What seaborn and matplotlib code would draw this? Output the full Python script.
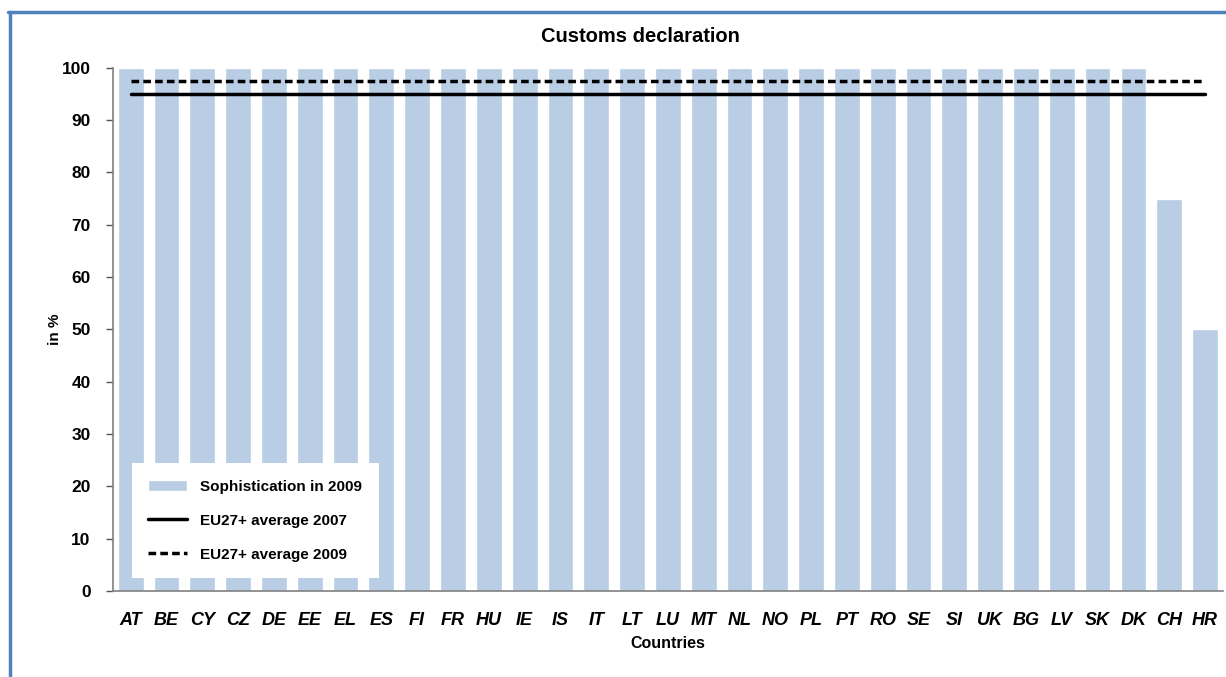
import matplotlib
matplotlib.use("Agg")
import matplotlib.pyplot as plt
import seaborn as sns
import pandas as pd
from matplotlib.lines import Line2D

# data
countries = ["AT", "BE", "CY", "CZ", "DE", "EE", "EL", "ES", "FI", "FR", "HU", "IE",
             "IS", "IT", "LT", "LU", "MT", "NL", "NO", "PL", "PT", "RO", "SE", "SI",
             "UK", "BG", "LV", "SK", "DK", "CH", "HR"]
sophistication_2009 = [100] * 29 + [75, 50]
eu_avg_2007 = 95
eu_avg_2009 = 97.5

df = pd.DataFrame({"country": countries, "value": sophistication_2009})

sns.set_style("white")
plt.rcParams["font.family"] = ["Liberation Sans", "DejaVu Sans"]
plt.rcParams.update({"text.color": "black", "axes.labelcolor": "black",
                     "xtick.color": "black", "ytick.color": "black"})

fig = plt.figure(figsize=(12.26, 6.77), dpi=100)
ax = fig.add_axes([0.092, 0.127, 0.9055, 0.773])

sns.barplot(data=df, x="country", y="value", color="#B9CDE5", saturation=1,
            width=0.72, ax=ax, label="Sophistication in 2009")
xs = range(len(countries))
ax.plot([0, len(countries) - 1], [eu_avg_2007] * 2, color="black", lw=2.5,
        label="EU27+ average 2007")
ax.plot([0, len(countries) - 1], [eu_avg_2009] * 2, color="black", lw=2.5,
        ls=(0, (2.2, 1.2)), label="EU27+ average 2009")

ax.set_xlim(-0.5, len(countries) - 0.5)
ax.set_ylim(0, 100)
ax.set_yticks(range(0, 101, 10))
ax.set_yticklabels([str(v) for v in range(0, 101, 10)], fontsize=12.5, fontweight="bold")
ax.set_xticks(list(xs))
ax.set_xticklabels(countries, fontsize=13, fontweight="bold", fontstyle="italic")
ax.set_xticks([i - 0.5 for i in range(len(countries) + 1)], minor=True)
ax.tick_params(axis="x", which="major", length=0, pad=15)
ax.tick_params(axis="x", which="minor", length=5, width=1, color="#555555", direction="out")
ax.tick_params(axis="y", length=5, width=1, color="#555555", direction="out", left=True, pad=11)

for s in ["top", "right"]:
    ax.spines[s].set_visible(False)
for s in ["left", "bottom"]:
    ax.spines[s].set_color("#808080")
    ax.spines[s].set_linewidth(1.2)

fig.text(640 / 1226, 1 - 36 / 677, "Customs declaration", fontsize=14.5,
         fontweight="bold", ha="center", va="center")
ax.set_xlabel("Countries", fontsize=11.5, fontweight="bold", labelpad=5)
ax.set_ylabel("in %", fontsize=11, fontweight="bold", labelpad=0)

handles, labels = ax.get_legend_handles_labels()
order = [labels.index("Sophistication in 2009"), labels.index("EU27+ average 2007"),
         labels.index("EU27+ average 2009")]
leg = ax.legend([handles[i] for i in order], [labels[i] for i in order],
                loc="lower left", bbox_to_anchor=(0.017, 0.024), frameon=True,
                fancybox=False, edgecolor="white", framealpha=1,
                prop={"weight": "bold", "size": 11}, handlelength=2.5,
                labelspacing=1.3, borderpad=1.1, handletextpad=0.9, borderaxespad=0)
leg.get_frame().set_linewidth(0)

# blue frame
frame_kw = dict(color="#4F81BD", lw=2.5, transform=fig.transFigure)
fig.add_artist(Line2D([9.5 / 1226, 9.5 / 1226], [0, 1 - 11.5 / 677], **frame_kw))
fig.add_artist(Line2D([8 / 1226, 1], [1 - 11.5 / 677, 1 - 11.5 / 677], **frame_kw))

fig.savefig("out.png", dpi=100)
